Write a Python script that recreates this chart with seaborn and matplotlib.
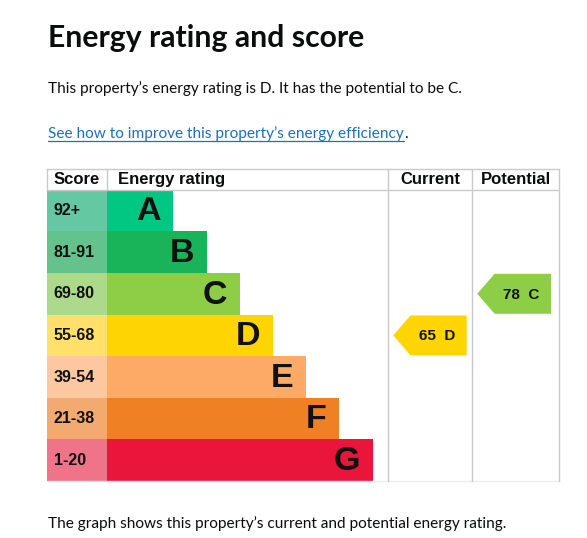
import matplotlib
matplotlib.use('Agg')
import matplotlib.pyplot as plt
from matplotlib.patches import Polygon
from matplotlib.lines import Line2D
import seaborn as sns
import pandas as pd

# ---- data ----
bands = ['A', 'B', 'C', 'D', 'E', 'F', 'G']
score_ranges = ['92+', '81-91', '69-80', '55-68', '39-54', '21-38', '1-20']
band_len = [2, 3, 4, 5, 6, 7, 8]
band_colors = ['#00c781', '#19b459', '#8dce46', '#ffd500', '#fcaa65', '#ef8023', '#e9153b']
score_colors = ['#64c9a2', '#64c38c', '#acd98a', '#ffe16a', '#fdc8a0', '#f3aa70', '#ef7489']

current_score, current_band = 65, 'D'
potential_score, potential_band = 78, 'C'

title = 'Energy rating and score'
summary = 'This property\u2019s energy rating is D. It has the potential to be C.'
link_text = 'See how to improve this property\u2019s energy efficiency'
footer = 'The graph shows this property\u2019s current and potential energy rating.'

df = pd.DataFrame({'band': bands, 'length': band_len})

# ---- layout (pixels) ----
W, H = 587, 538
tbl_left, tbl_right, tbl_top, tbl_bottom = 47, 559, 169, 481
step = 33.2          # px per rating step
score_w = 60 / step
x_cur = (388 - 107) / step
x_pot = (472 - 107) / step
x_end = (tbl_right - 107) / step
grey = '#c9c9c9'

sns.set_style('white')
fig = plt.figure(figsize=(W / 100, H / 100), dpi=100)
fig.patch.set_facecolor('white')

ax = fig.add_axes([tbl_left / W, 1 - tbl_bottom / H,
                   (tbl_right - tbl_left) / W, (tbl_bottom - tbl_top) / H])

sns.barplot(data=df, x='length', y='band', hue='band', palette=band_colors,
            orient='h', width=1.0, saturation=1, linewidth=0, legend=False, ax=ax)
ax.barh(range(len(bands)), score_w, left=-score_w, height=1.0,
        color=score_colors, linewidth=0)

ax.set_xlim(-score_w, x_end)
ax.set_ylim(6.5, -1.0)
ax.axis('off')

tf = 'Liberation Sans'
for i, (b, n, s) in enumerate(zip(bands, band_len, score_ranges)):
    ax.text(n - 0.38, i + 0.03, b, ha='right', va='center', fontsize=24.5,
            fontweight='bold', family=tf, color='#111111')
    ax.text(-score_w + 0.2, i, s, ha='left', va='center', fontsize=11.5,
            fontweight='bold', family=tf, color='#111111')

# header
for x, lab, ha in [(-score_w + 0.2, 'Score', 'left'), (0.33, 'Energy rating', 'left'),
                   ((x_cur + x_pot) / 2, 'Current', 'center'),
                   ((x_pot + x_end) / 2, 'Potential', 'center')]:
    ax.text(x, -0.74, lab, ha=ha, va='center', fontsize=12, fontweight='bold',
            family=tf, color='#0b0c0c')

# grid lines
for y in (-1.0, -0.5):
    ax.plot([-score_w, x_end], [y, y], color=grey, lw=1, clip_on=False)
ax.plot([-score_w, x_end], [6.5, 6.5], color='#ececec', lw=1, clip_on=False)
for x in (-score_w, 0):
    ax.plot([x, x], [-1.0, -0.5], color=grey, lw=1, clip_on=False)
for x in (x_cur, x_pot, x_end):
    ax.plot([x, x], [-1.0, 6.5], color=grey, lw=1, clip_on=False)


def arrow(x0, x1, score, band):
    row = bands.index(band)
    color = band_colors[row]
    tip = 0.52
    y0, y1 = row - 0.48, row + 0.48
    pts = [(x0, row), (x0 + tip, y0), (x1, y0), (x1, y1), (x0 + tip, y1)]
    ax.add_patch(Polygon(pts, closed=True, facecolor=color, edgecolor='none'))
    ax.text((x0 + tip + x1) / 2 - 0.05, row + 0.02, f'{score}  {band}', ha='center',
            va='center', fontsize=11, fontweight='bold', family=tf, color='#111111')


arrow(x_cur + 0.16, x_pot - 0.16, current_score, current_band)
arrow(x_pot + 0.16, x_end - 0.24, potential_score, potential_band)

# ---- page text ----
pf = 'Lato'
ink = '#0b0c0c'
fs = 11.1
fig.text(48 / W, 1 - 47 / H, title, ha='left', va='baseline', fontsize=21.7,
         fontweight='bold', family=pf, color=ink)
fig.text(48 / W, 1 - 93 / H, summary, ha='left', va='baseline', fontsize=fs,
         family=pf, color=ink)
lk = fig.text(48 / W, 1 - 138 / H, link_text, ha='left', va='baseline',
              fontsize=fs, family=pf, color='#1d70b8')
fig.text(48 / W, 1 - 528 / H, footer, ha='left', va='baseline', fontsize=fs,
         family=pf, color=ink)

fig.canvas.draw()
bb = lk.get_window_extent()
x_a, x_b = bb.x0 / W, bb.x1 / W
fig.add_artist(Line2D([x_a, x_b], [1 - 141 / H] * 2, color='#1d70b8', lw=0.9))
fig.text(x_b, 1 - 138 / H, '.', ha='left', va='baseline', fontsize=fs,
         family=pf, color=ink)

fig.savefig('out.png', dpi=100, facecolor='white')
